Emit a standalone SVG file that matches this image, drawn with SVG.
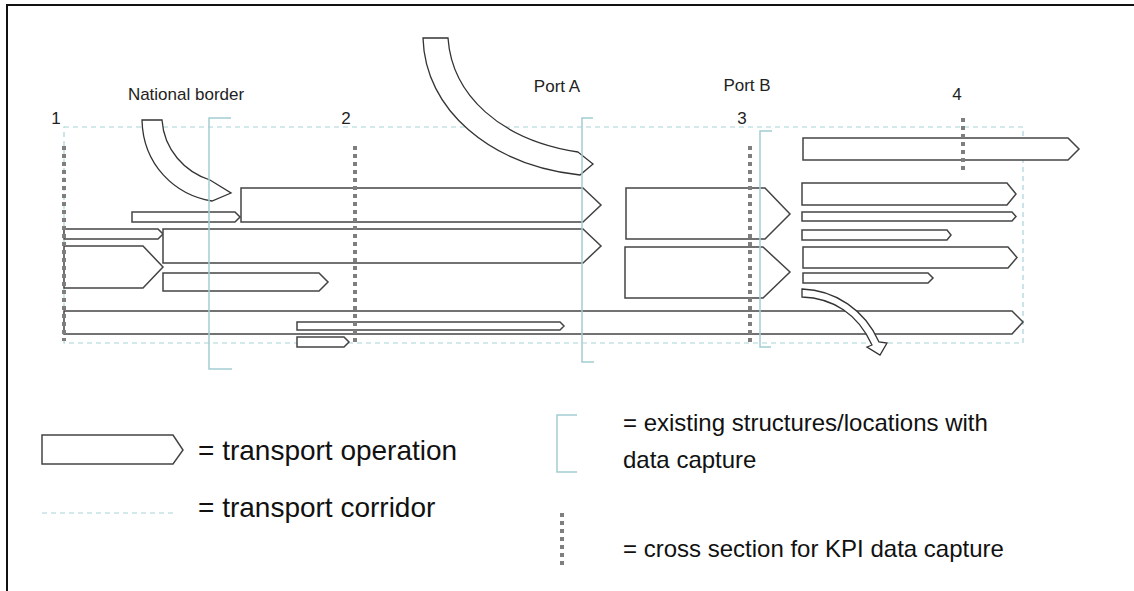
<svg xmlns="http://www.w3.org/2000/svg" width="1134" height="591" viewBox="0 0 1134 591">
<style>
.op{fill:#fff;stroke:#444;stroke-width:1.5;stroke-linejoin:miter}
.cur{fill:#fff;stroke:#333;stroke-width:1.3}
.cor{fill:none;stroke:#a7d3da;stroke-width:1.2;stroke-dasharray:5 4}
.br{fill:none;stroke:#a3cdd2;stroke-width:1.5}
.cs{fill:none;stroke:#7f7f7f;stroke-width:4;stroke-dasharray:4 4}
.lbl{font-family:"Liberation Sans",Arial,sans-serif;font-size:17px;fill:#222}
.leg{font-family:"Liberation Sans",Arial,sans-serif;font-size:28px;fill:#111}
.leg2{font-family:"Liberation Sans",Arial,sans-serif;font-size:24px;fill:#111}
</style>
<rect x="0" y="0" width="1134" height="591" fill="#fff"/>
<rect x="7" y="5" width="1140" height="600" fill="none" stroke="#111" stroke-width="2"/>

<g id="corridor"><rect class="cor" x="64" y="127" width="959" height="216"/></g>

<g id="op-A"><path class="op" d="M241,188H583L601,205L583,222H241Z"/></g>
<g id="op-B"><path class="op" d="M132,212H235L240,217L235,222H132Z"/></g>
<g id="op-C"><path class="op" d="M64,229H158L163,234L158,239H64Z"/></g>
<g id="op-D"><path class="op" d="M163,229H583L601,246L583,263H163Z"/></g>
<g id="op-E"><path class="op" d="M64,246H143L163,267L143,288H64Z"/></g>
<g id="op-F"><path class="op" d="M163,273H319L328,282L319,291H163Z"/></g>
<g id="op-G"><path class="op" d="M64,311H1012L1023,322L1012,334H64Z"/></g>
<g id="op-H"><path class="op" d="M297,322H560L564,326L560,330H297Z"/></g>
<g id="op-I"><path class="op" d="M297,337H344L349,342L344,347H297Z"/></g>
<g id="op-J"><path class="op" d="M626,188H765L790,214L765,239H626Z"/></g>
<g id="op-K"><path class="op" d="M625,247H763L790,272L763,298H625Z"/></g>
<g id="op-L"><path class="op" d="M803,138H1068L1079,149L1068,160H803Z"/></g>
<g id="op-M"><path class="op" d="M802,183H1007L1016,194L1007,205H802Z"/></g>
<g id="op-N"><path class="op" d="M802,212H1012L1016,216.5L1012,221H802Z"/></g>
<g id="op-O"><path class="op" d="M802,230H947L951,235L947,240H802Z"/></g>
<g id="op-P"><path class="op" d="M803,247H1008L1017,257.5L1008,268H803Z"/></g>
<g id="op-Q"><path class="op" d="M803,273H928L933,278L928,283H803Z"/></g>

<g id="connectors">
<path id="flow-border" class="cur" d="M142,120L162,120C164,150 185,172 210,180L231,193L212,201C175,195 143,165 142,120Z"/>
<path id="flow-portA" class="cur" d="M423,38L448,38C452,95 500,140 578,152L593,164L580,175C490,165 425,110 423,38Z"/>
<path id="flow-out" class="cur" d="M802,289C835,290 865,310 879,342L887,343L880,355L867,347L872,345C858,314 833,298 802,297Z"/>
</g>

<g id="structures">
<path class="br" d="M231,118H209V369H232"/>
<path class="br" d="M593,118H582V362H594"/>
<path class="br" d="M772,131H760V347H771"/>
</g>

<g id="cross-sections">
<line class="cs" x1="64" y1="146" x2="64" y2="341"/>
<line class="cs" x1="355" y1="146" x2="355" y2="345"/>
<line class="cs" x1="750" y1="146" x2="750" y2="345"/>
<line class="cs" x1="963" y1="118" x2="963" y2="172"/>
</g>

<g id="labels">
<text class="lbl" x="186" y="100" text-anchor="middle">National border</text>
<text class="lbl" x="557" y="92" text-anchor="middle">Port A</text>
<text class="lbl" x="747" y="91" text-anchor="middle">Port B</text>
<text class="lbl" x="56" y="124" text-anchor="middle">1</text>
<text class="lbl" x="346" y="124" text-anchor="middle">2</text>
<text class="lbl" x="742" y="124" text-anchor="middle">3</text>
<text class="lbl" x="957" y="100" text-anchor="middle">4</text>
</g>

<g id="legend">
<path class="op" d="M42,435H173L183,450L173,464H42Z"/>
<text class="leg" x="198" y="460">= transport operation</text>
<line class="cor" x1="42" y1="513" x2="177" y2="513"/>
<text class="leg" x="198" y="517">= transport corridor</text>
<path class="br" d="M577,415H557V472H577"/>
<text class="leg2" x="623" y="431">= existing structures/locations with</text>
<text class="leg2" x="623" y="468">data capture</text>
<line class="cs" x1="562" y1="513" x2="562" y2="566"/>
<text class="leg2" x="623" y="557">= cross section for KPI data capture</text>
</g>
</svg>
